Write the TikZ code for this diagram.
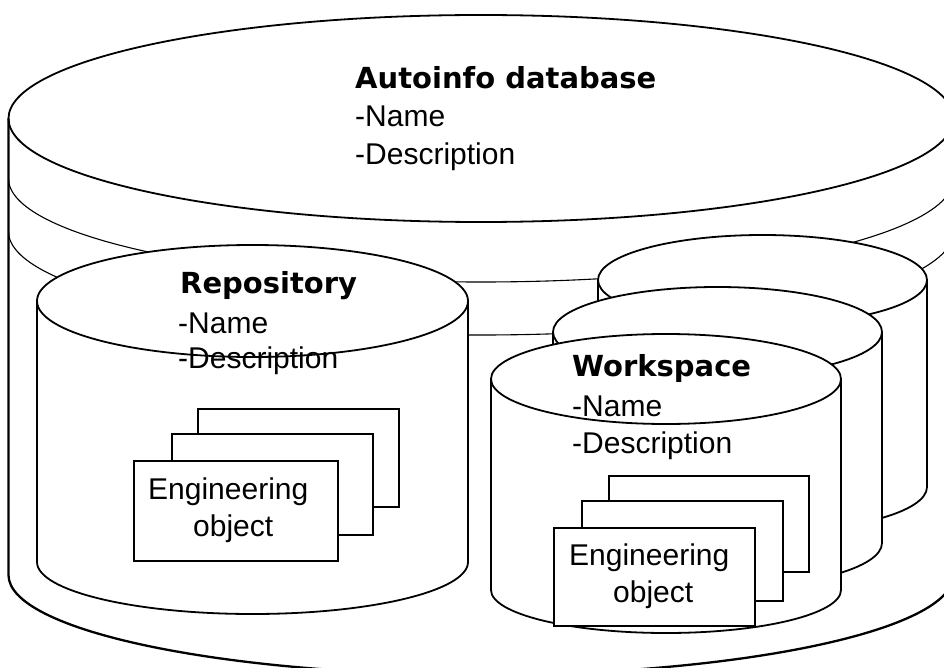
\documentclass[tikz,border=0pt]{standalone}
\usepackage{fontspec}
\setmainfont{Liberation Sans}
\newfontfamily\headfamily{DejaVu Sans}
\newcommand{\bodytext}{\fontsize{30}{36}\selectfont}
\newcommand{\headtext}{\headfamily\bfseries\fontsize{29}{35}\selectfont}

% Cylinder: #1 centre x, #2 top centre y, #3 bottom centre y,
% #4 half width, #5 top half height, #6 bottom half height
\newcommand{\drum}[6]{%
  \filldraw[edge, fill=white] (#1-#4,#2) -- (#1-#4,#3)
    arc[start angle=180, end angle=0, x radius=#4, y radius=#6]
    -- (#1+#4,#2)
    arc[start angle=0, end angle=-180, x radius=#4, y radius=#5] -- cycle;
  \draw[edge] (#1-#4,#2) arc[start angle=180, end angle=0, x radius=#4, y radius=#5];
}

\tikzset{
  edge/.style={line width=1.8pt, line join=round},
  fine/.style={line width=1.1pt},
  side/.style={line width=2.3pt},
  card/.style={draw, line width=1.7pt, fill=white, anchor=north west, inner sep=0pt},
  body/.style={anchor=base west, inner sep=0pt, font=\bodytext},
  head/.style={anchor=base west, inner sep=0pt, font=\headtext},
}

\begin{document}
\begin{tikzpicture}[x=1pt, y=-1pt]
\useasboundingbox (0,0) rectangle (944,668);
\fill[white] (0,0) rectangle (944,668);

% outer database drum with its stacked platters
\draw[side] (8.5,118.5) -- (8.5,575)
  arc[start angle=180, end angle=0, x radius=472.5, y radius=100] -- (953.5,118.5);
\draw[edge] (481,118.5) ellipse[x radius=472.5, y radius=103.5];
\draw[fine] (8.5,178.5) arc[start angle=180, end angle=0, x radius=472.5, y radius=103.5];
\draw[fine] (8.5,231.5) arc[start angle=180, end angle=0, x radius=472.5, y radius=103.5];

% repository drum
\drum{252.5}{301}{562}{215.5}{56}{52}

% three workspace drums, back to front
\drum{762.5}{280}{487}{164.5}{45}{45}
\drum{717.5}{332}{543}{164.5}{45}{45}
\drum{666}{379}{590}{175}{45}{43}

% engineering object cards in the repository
\node[card, minimum width=201pt, minimum height=98pt] (rcard3) at (197,408) {};
\node[card, minimum width=201pt, minimum height=101pt] (rcard2) at (171,433) {};
\node[card, minimum width=204pt, minimum height=100pt] (rcard1) at (133,460) {};

% engineering object cards in the workspace
\node[card, minimum width=200pt, minimum height=96pt] (wcard3) at (608,475) {};
\node[card, minimum width=201pt, minimum height=100pt] (wcard2) at (581,500) {};
\node[card, minimum width=201pt, minimum height=98pt] (wcard1) at (553,527) {};

% database labels
\node[head] (dbtitle) at (355,89) {Autoinfo database};
\node[body] (dbname) at (355,127) {-Name};
\node[body] (dbdesc) at (355,165) {-Description};

% repository labels
\node[head] (reptitle) at (180,293) {Repository};
\node[body] (repname) at (178,333) {-Name};
\node[body] (repdesc) at (178,368) {-Description};
\node[body] (repobj1) at (148,499) {Engineering};
\node[body] (repobj2) at (193,536) {object};

% workspace labels
\node[head] (wstitle) at (572,376) {Workspace};
\node[body] (wsname) at (572,416) {-Name};
\node[body] (wsdesc) at (572,453) {-Description};
\node[body] (wsobj1) at (569,565) {Engineering};
\node[body] (wsobj2) at (613,602) {object};
\end{tikzpicture}
\end{document}
